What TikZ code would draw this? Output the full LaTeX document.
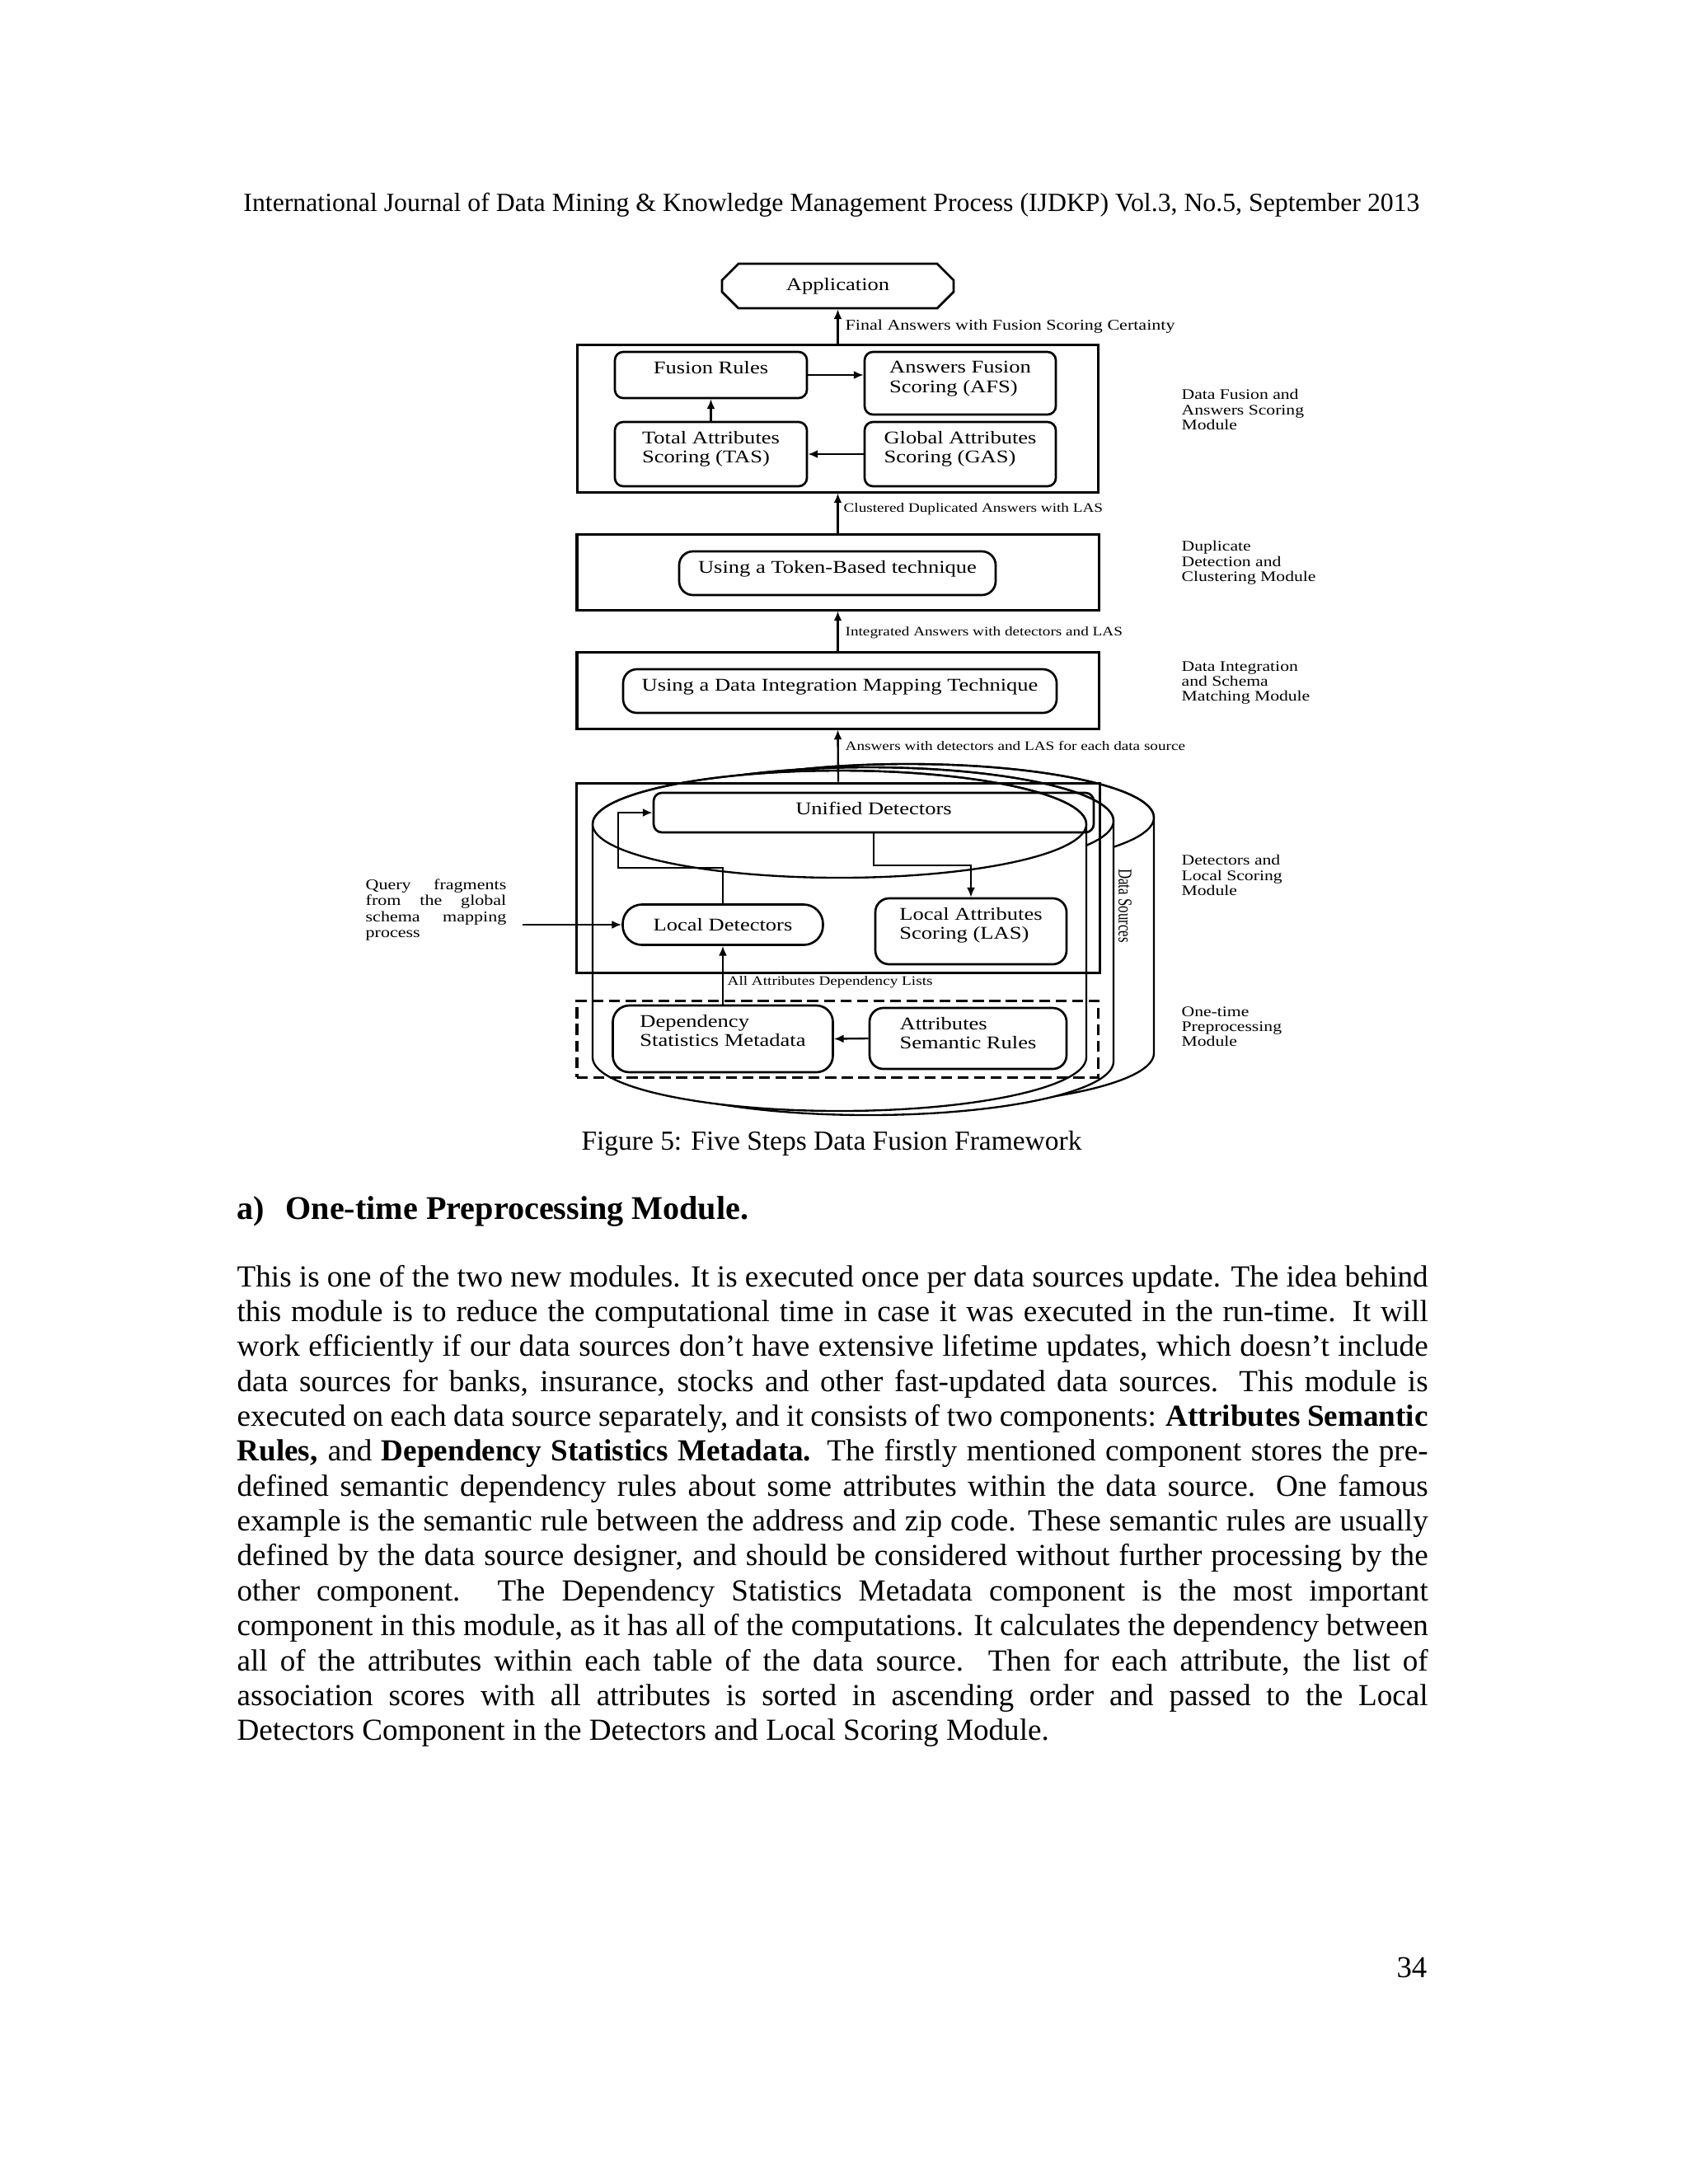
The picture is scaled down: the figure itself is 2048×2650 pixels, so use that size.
\documentclass[tikz,border=0pt]{standalone}
\usepackage{fontspec}
\setmainfont{Liberation Serif}
\newfontfamily\figfont[FakeStretch=1.22]{Liberation Serif}
\newfontfamily\figcond[FakeStretch=0.72]{Liberation Serif}
\usetikzlibrary{arrows.meta, shapes.misc, positioning}

% one pixel of the page
\newcommand{\pxl}{0.298828pt}
% one justified line of the body text
\newcommand{\jline}[1]{\makebox[431.8pt][s]{#1}}

\begin{document}
\begin{tikzpicture}[x=\pxl, y=-\pxl,
    modbox/.style={draw, line width=0.9pt, inner sep=0pt},
    blk/.style={draw, rounded corners=3pt, line width=0.8pt, inner sep=0pt, font=\figfont\fontsize{6.5}{7}\selectfont},
    sz/.style 2 args={minimum width=#1*\pxl, minimum height=#2*\pxl},
    txt/.style={label={[anchor=north, yshift=-3.6pt, inner sep=0pt, align=left, font=\figfont\fontsize{6.5}{7}\selectfont]north:{#1}}},
    arr/.style={-{Latex[length=3.5pt,width=3pt]}, line width=0.7pt},
    flowlbl/.style={anchor=west, inner sep=0pt, font=\figfont\fontsize{4.7}{5}\selectfont},
    modlbl/.style={anchor=north west, inner sep=0pt, align=left, font=\figfont\fontsize{5.3}{5.4}\selectfont},
    cyl/.style={draw, fill=white, line width=0.7pt}
  ]
  \fill[white] (0,0) rectangle (2048,2650);
  \useasboundingbox (0,0) rectangle (2048,2650);

  % Page header
  \node[anchor=base, inner sep=0pt, font=\fontsize{9.5}{11.5}\selectfont] (header) at (1009,256)
    {International Journal of Data Mining \& Knowledge Management Process (IJDKP) Vol.3, No.5, September 2013};

  % Data sources (three cylinders)
  \draw[cyl] (803,992) -- (803,1278) arc[start angle=180, end angle=0, x radius=298.5, y radius=65]
    -- (1400,992) arc[start angle=0, end angle=-180, x radius=298.5, y radius=65] -- cycle;
  \draw[line width=0.7pt] (1101.5,992) ellipse [x radius=298.5, y radius=65];
  \draw[cyl] (756,996) -- (756,1288) arc[start angle=180, end angle=0, x radius=297.5, y radius=65]
    -- (1351,996) arc[start angle=0, end angle=-180, x radius=297.5, y radius=65] -- cycle;
  \draw[line width=0.7pt] (1053.5,996) ellipse [x radius=297.5, y radius=65];
  \draw[cyl] (719,1000) -- (719,1283) arc[start angle=180, end angle=0, x radius=299.5, y radius=65]
    -- (1318,1000) arc[start angle=0, end angle=-180, x radius=299.5, y radius=65] -- cycle;
  \draw[line width=0.7pt] (1018.5,1000) ellipse [x radius=299.5, y radius=65];
  \node[rotate=-90, inner sep=0pt, font=\figcond\fontsize{7}{7}\selectfont] (dsrc) at (1365,1099) {Data Sources};

  % Application
  \node[draw, line width=0.8pt, chamfered rectangle, chamfered rectangle xsep=3pt, chamfered rectangle ysep=3pt,
    inner sep=0pt, sz={281}{54}, font=\figfont\fontsize{6.5}{7}\selectfont] (app) at (1016.5,347) {Application};

  % Data fusion and answers scoring module
  \node[modbox, sz={632}{179}] (fus) at (1016.5,507.5) {};
  \node[blk, sz={233}{56}, txt={Fusion Rules}] (fr) at (862.5,455) {};
  \node[blk, sz={232}{76}, txt={Answers Fusion\\Scoring (AFS)}] (afs) at (1165,465) {};
  \node[blk, sz={233}{78}, txt={Total Attributes\\Scoring (TAS)}] (tas) at (862.5,551) {};
  \node[blk, sz={232}{78}, txt={Global Attributes\\Scoring (GAS)}] (gas) at (1165,551) {};

  % Duplicate detection and clustering module
  \node[modbox, sz={633}{92}] (dup) at (1016.5,694) {};
  \node[blk, rounded corners=5pt, sz={384}{53}, txt={Using a Token-Based technique}] (tok) at (1016,695.5) {};

  % Data integration and schema matching module
  \node[modbox, sz={633}{93}] (integ) at (1016.5,837.5) {};
  \node[blk, rounded corners=5pt, sz={526}{53}, txt={Using a Data Integration Mapping Technique}] (map) at (1019,838.5) {};

  % Detectors and local scoring module
  \node[modbox, sz={635}{230}] (detmod) at (1017,1065) {};
  \node[blk, sz={534}{48}, txt={Unified Detectors}] (uni) at (1060,986) {};
  \node[blk, rounded corners=7pt, sz={243}{49}] (locd) at (877,1122) {Local Detectors};
  \node[blk, rounded corners=5pt, sz={232}{80}, txt={Local Attributes\\Scoring (LAS)}] (las) at (1178,1130) {};

  % One-time preprocessing module
  \node[modbox, dash pattern=on 4pt off 2pt, sz={632}{93}] (pre) at (1016,1260.5) {};
  \node[blk, rounded corners=6pt, sz={267}{81}, txt={Dependency\\Statistics Metadata}] (dsm) at (877,1260.5) {};
  \node[blk, rounded corners=5pt, sz={239}{74}, txt={Attributes\\Semantic Rules}] (asr) at (1174.5,1260) {};

  % Query fragments
  \node[anchor=base west, inner sep=0pt] (qry) at (443,1079) {\parbox[t]{51pt}{\figfont\fontsize{5.4}{5.83}\selectfont
    \makebox[51pt][s]{Query fragments}\\ \makebox[51pt][s]{from the global}\\
    \makebox[51pt][s]{schema mapping}\\ process}};
  \coordinate (qstart) at (634,1122);

  % Arrows between the modules
  \draw[arr] (fus.north) -- (app.south);
  \draw[arr] (dup.north) -- (fus.south);
  \draw[arr] (integ.north) -- (dup.south);
  \draw[arr] (detmod.north) -- (integ.south);
  \node[flowlbl, font=\figfont\fontsize{5.4}{6}\selectfont] (lfinal) at (1025,396) {Final Answers with Fusion Scoring Certainty};
  \node[flowlbl] (lclus) at (1023,618) {Clustered Duplicated Answers with LAS};
  \node[flowlbl] (linteg) at (1025,768) {Integrated Answers with detectors and LAS};
  \node[flowlbl] (lansw) at (1025,905) {Answers with detectors and LAS for each data source};

  % Arrows inside the modules
  \draw[arr] (fr.east) -- (fr.east -| afs.west);
  \draw[arr] (tas.north) -- (fr.south);
  \draw[arr] (gas.west) -- (tas.east);
  \coordinate (ldup) at (750,1053);
  \draw[arr] (locd.north) |- (ldup) |- (uni.west);
  \coordinate (udown) at (1060,1050);
  \draw[arr] (uni.south) -- (udown) -| (las.north);
  \draw[arr] (qstart) -- (locd.west);
  \draw[arr] (dsm.north) -- (locd.south);
  \draw[arr] (asr.west) -- (dsm.east);
  \node[flowlbl] (ldep) at (882,1192) {All Attributes Dependency Lists};

  % Module names
  \node[modlbl] (mfus) at (1433,472) {Data Fusion and\\Answers Scoring\\Module};
  \node[modlbl] (mdup) at (1433,656) {Duplicate\\Detection and\\Clustering Module};
  \node[modlbl] (minteg) at (1433,802) {Data Integration\\and Schema\\Matching Module};
  \node[modlbl] (mdet) at (1433,1037) {Detectors and\\Local Scoring\\Module};
  \node[modlbl] (mpre) at (1433,1221) {One-time\\Preprocessing\\Module};

  % Caption, heading and body text
  \node[anchor=base, inner sep=0pt, font=\fontsize{10}{12}\selectfont] (caption) at (1009,1395)
    {Figure 5: Five Steps Data Fusion Framework};
  \node[anchor=base west, inner sep=0pt, font=\fontsize{12}{14}\selectfont\bfseries] (heading) at (287,1479)
    {\makebox[17.6pt][l]{a)}One-time Preprocessing Module.};
  \node[anchor=base west, inner sep=0pt] (body) at (287,1561) {\parbox[t]{431.8pt}{\fontsize{11.1}{12.66}\selectfont
    \jline{This is one of the two new modules. It is executed once per data sources update. The idea behind}\\
    \jline{this module is to reduce the computational time in case it was executed in the run-time. It will}\\
    \jline{work efficiently if our data sources don’t have extensive lifetime updates, which doesn’t include}\\
    \jline{data sources for banks, insurance, stocks and other fast-updated data sources. This module is}\\
    \jline{executed on each data source separately, and it consists of two components: \textbf{Attributes Semantic}}\\
    \jline{\textbf{Rules,} and \textbf{Dependency Statistics Metadata.} The firstly mentioned component stores the pre-}\\
    \jline{defined semantic dependency rules about some attributes within the data source. One famous}\\
    \jline{example is the semantic rule between the address and zip code. These semantic rules are usually}\\
    \jline{defined by the data source designer, and should be considered without further processing by the}\\
    \jline{other component. The Dependency Statistics Metadata component is the most important}\\
    \jline{component in this module, as it has all of the computations. It calculates the dependency between}\\
    \jline{all of the attributes within each table of the data source. Then for each attribute, the list of}\\
    \jline{association scores with all attributes is sorted in ascending order and passed to the Local}\\
    Detectors Component in the Detectors and Local Scoring Module.}};

  % Page number
  \node[anchor=base east, inner sep=0pt, font=\fontsize{11}{13}\selectfont] (pagenum) at (1732,2399) {34};
\end{tikzpicture}
\end{document}
